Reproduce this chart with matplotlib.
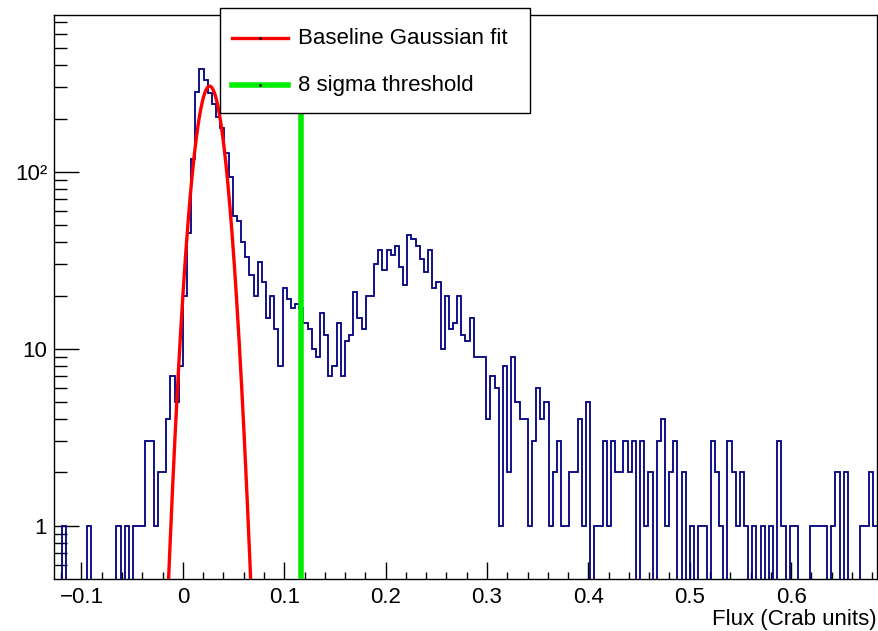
import numpy as np
import matplotlib
matplotlib.use("Agg")
import matplotlib.pyplot as plt
from matplotlib.lines import Line2D
from matplotlib.patches import Rectangle
from matplotlib.ticker import FixedLocator, FuncFormatter, MultipleLocator

# ---- data -------------------------------------------------------------
x_min = -0.1271
bin_width = 0.0041
counts = [
    0, 0, 1, 0, 0, 0, 0, 0, 1, 0,
    0, 0, 0, 0, 0, 1, 0, 1, 0, 1,
    1, 1, 3, 3, 1, 2, 2, 4, 7, 5,
    8, 20, 45, 118, 282, 383, 330, 278, 243, 205,
    176, 127, 94, 56, 53, 40, 33, 26, 20, 31,
    24, 15, 20, 13, 8, 22, 19, 17, 18, 17,
    14, 13, 10, 9, 16, 12, 7, 8, 14, 7,
    11, 12, 21, 15, 13, 20, 20, 30, 36, 28,
    36, 34, 38, 29, 23, 44, 42, 38, 32, 27,
    36, 22, 24, 10, 20, 13, 14, 20, 12, 11,
    15, 9, 9, 9, 4, 7, 6, 1, 8, 2,
    9, 5, 4, 4, 1, 3, 6, 4, 5, 1,
    2, 3, 1, 1, 2, 2, 4, 1, 5, 0,
    1, 1, 3, 1, 3, 2, 2, 3, 2, 3,
    0, 3, 1, 2, 0, 3, 4, 1, 2, 3,
    0, 2, 0, 1, 0, 1, 1, 0, 3, 2,
    1, 0, 3, 2, 1, 2, 1, 0, 1, 0,
    1, 0, 1, 0, 3, 1, 0, 1, 1, 0,
    0, 0, 1, 1, 1, 1, 0, 1, 2, 0,
    2, 0, 0, 0, 1, 1, 2, 1,
]
fit_amplitude = 305.0
fit_mean = 0.0264
fit_sigma = 0.0113
n_sigma = 8
legend_labels = ["Baseline Gaussian fit", "8 sigma threshold"]
x_label = "Flux (Crab units)"

RED = "#ff0000"
GREEN = "#00ee00"
NAVY = "#000080"

# ---- figure -----------------------------------------------------------
plt.rcParams["font.family"] = ["Liberation Sans", "DejaVu Sans"]
W, H = 879, 631
fig = plt.figure(figsize=(W / 100, H / 100), dpi=100)
L, R, T, B = 54, 877, 15, 579
ax = fig.add_axes([L / W, 1 - B / H, (R - L) / W, (B - T) / H])

counts_arr = np.asarray(counts, dtype=float)
edges = x_min + bin_width * np.arange(len(counts) + 1)
draw_vals = np.where(counts_arr > 0, counts_arr, 1e-3)
ax.stairs(draw_vals, edges, baseline=None, color=NAVY, linewidth=1.3, zorder=3)

xf = np.linspace(fit_mean - 4.5 * fit_sigma, fit_mean + 4.5 * fit_sigma, 400)
yf = fit_amplitude * np.exp(-0.5 * ((xf - fit_mean) / fit_sigma) ** 2)
ax.plot(xf, yf, color=RED, linewidth=2.4, zorder=4)

thr = fit_mean + n_sigma * fit_sigma
ax.axvline(thr, color=GREEN, linewidth=4.0, zorder=5)

ax.set_yscale("log")
ax.set_xlim(edges[0], edges[-1])
ax.set_ylim(0.5, 770)

# ticks
ax.xaxis.set_major_locator(MultipleLocator(0.1))
ax.xaxis.set_minor_locator(MultipleLocator(0.02))
ax.xaxis.set_major_formatter(FuncFormatter(lambda v, p: ("\u22120.1" if abs(v + 0.1) < 1e-9 else ("0" if abs(v) < 1e-9 else f"{v:.1f}"))))
ax.yaxis.set_major_locator(FixedLocator([1, 10, 100]))
ax.yaxis.set_minor_locator(FixedLocator([0.6, 0.7, 0.8, 0.9] + [i for i in range(2, 10)] + [10 * i for i in range(2, 10)] + [100 * i for i in range(2, 8)]))
ax.yaxis.set_major_formatter(FuncFormatter(lambda v, p: {1: "1", 10: "10", 100: "10\u00b2"}.get(int(round(v)), "")))
ax.yaxis.set_minor_formatter(FuncFormatter(lambda v, p: ""))

ax.tick_params(axis="x", which="major", direction="in", length=12, width=1, labelsize=16, pad=6, top=False)
ax.tick_params(axis="x", which="minor", direction="in", length=5, width=1, top=False)
ax.tick_params(axis="y", which="major", direction="in", length=18, width=1, labelsize=16, pad=5, right=False)
ax.tick_params(axis="y", which="minor", direction="in", length=9, width=1, right=False)
for s in ax.spines.values():
    s.set_linewidth(1.0)
    s.set_color("black")

fig.text(R / W, 1 - 620 / H, x_label, ha="right", va="center", fontsize=16)

# legend (drawn as a ROOT-style box in figure pixel coordinates)
def fx(px):
    return px / W


def fy(py):
    return 1 - py / H


box = Rectangle((fx(220), fy(113)), fx(530) - fx(220), fy(8) - fy(113),
                transform=fig.transFigure, facecolor="white", edgecolor="black",
                linewidth=1.0, zorder=20)
fig.add_artist(box)
entries = [(legend_labels[0], RED, 2.4, 38), (legend_labels[1], GREEN, 4.0, 85)]
for label, col, lw, ypx in entries:
    fig.add_artist(Line2D([fx(232), fx(288)], [fy(ypx), fy(ypx)], transform=fig.transFigure,
                          color=col, linewidth=lw, zorder=21))
    fig.add_artist(Line2D([fx(260)], [fy(ypx)], transform=fig.transFigure, marker=".",
                          markersize=2, color="black", linestyle="none", zorder=22))
    fig.text(fx(298), fy(ypx), label, ha="left", va="center", fontsize=16, zorder=22)

fig.savefig("out.png", dpi=100)
